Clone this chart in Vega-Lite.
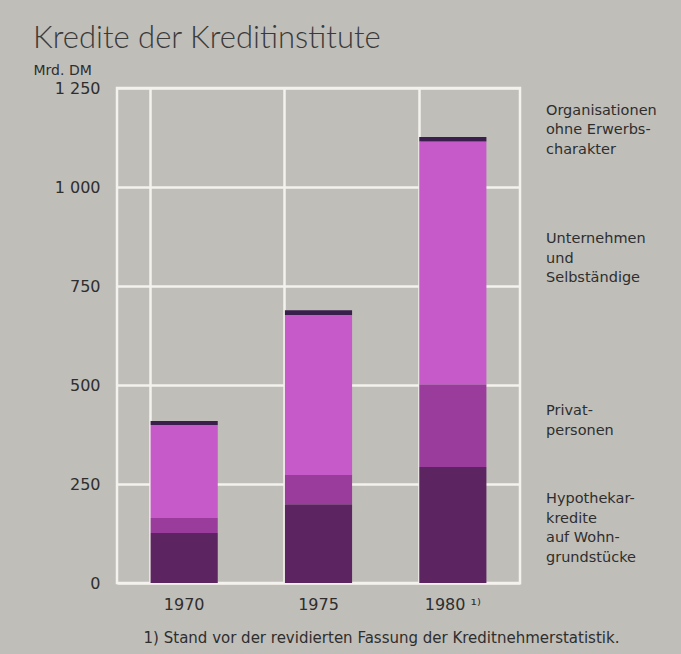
{
  "$schema": "https://vega.github.io/schema/vega-lite/v6.json",
  "autosize": "none",
  "width": 403,
  "height": 495,
  "padding": {"left": 117, "top": 88, "right": 161, "bottom": 71},
  "background": "#c0beb9",
  "config": {
    "view": {"stroke": "#f4f2ee", "strokeWidth": 2.5, "fill": "#c0beb9"},
    "font": "DejaVu Sans"
  },
  "title": {
    "text": "Kredite der Kreditinstitute",
    "anchor": "start",
    "frame": "group",
    "dx": -84,
    "offset": 8,
    "font": "Lato",
    "fontSize": 31,
    "fontWeight": 300,
    "color": "#3a3a3a"
  },
  "datasets": {
    "bars": [
      {"jahr": "1970", "art": "Hypothekarkredite auf Wohngrundstücke", "o": 1, "wert": 126},
      {"jahr": "1970", "art": "Privatpersonen", "o": 2, "wert": 38},
      {"jahr": "1970", "art": "Unternehmen und Selbständige", "o": 3, "wert": 235},
      {"jahr": "1970", "art": "Organisationen ohne Erwerbscharakter", "o": 4, "wert": 10},
      {"jahr": "1975", "art": "Hypothekarkredite auf Wohngrundstücke", "o": 1, "wert": 199},
      {"jahr": "1975", "art": "Privatpersonen", "o": 2, "wert": 74},
      {"jahr": "1975", "art": "Unternehmen und Selbständige", "o": 3, "wert": 404},
      {"jahr": "1975", "art": "Organisationen ohne Erwerbscharakter", "o": 4, "wert": 12},
      {"jahr": "1980", "art": "Hypothekarkredite auf Wohngrundstücke", "o": 1, "wert": 293},
      {"jahr": "1980", "art": "Privatpersonen", "o": 2, "wert": 209},
      {"jahr": "1980", "art": "Unternehmen und Selbständige", "o": 3, "wert": 613},
      {"jahr": "1980", "art": "Organisationen ohne Erwerbscharakter", "o": 4, "wert": 11}
    ],
    "labels": [
      {"text": ["Organisationen", "ohne Erwerbs-", "charakter"], "pos": 1210},
      {"text": ["Unternehmen", "und", "Selbständige"], "pos": 886},
      {"text": ["Privat-", "personen"], "pos": 452},
      {"text": ["Hypothekar-", "kredite", "auf Wohn-", "grundstücke"], "pos": 229}
    ]
  },
  "layer": [
    {
      "data": {"name": "bars"},
      "mark": {"type": "bar"},
      "encoding": {
        "x": {
          "field": "jahr",
          "type": "nominal",
          "scale": {"paddingInner": 0.5, "paddingOuter": 0.25},
          "axis": {
            "title": "1) Stand vor der revidierten Fassung der Kreditnehmerstatistik.",
            "titleFont": "DejaVu Sans",
            "titleFontSize": 15,
            "titleFontWeight": "normal",
            "titleColor": "#2e2e2e",
            "titleAlign": "center",
            "titleAnchor": "middle",
            "titleX": 264,
            "titlePadding": 18,
            "labelAngle": 0,
            "labelFontSize": 16,
            "labelColor": "#2e2e2e",
            "labelPadding": 13,
            "labelExpr": "datum.value == '1980' ? '1980 ¹⁾' : datum.label",
            "ticks": false,
            "domain": false,
            "grid": true,
            "bandPosition": 0,
            "gridColor": "#f4f2ee",
            "gridWidth": 2.5,
            "gridOpacity": 1
          }
        },
        "y": {
          "field": "wert",
          "type": "quantitative",
          "stack": "zero",
          "scale": {"domain": [0, 1250], "nice": false},
          "axis": {
            "title": "Mrd. DM",
            "titleAngle": 0,
            "titleAlign": "left",
            "titleBaseline": "middle",
            "titleX": -84,
            "titleY": -18,
            "titleFontSize": 14,
            "titleFontWeight": "normal",
            "titleColor": "#2e2e2e",
            "values": [0, 250, 500, 750, 1000, 1250],
            "labelExpr": "replace(format(datum.value, ','), ',', ' ')",
            "labelFontSize": 16,
            "labelColor": "#2e2e2e",
            "labelPadding": 17,
            "ticks": false,
            "domain": false,
            "grid": true,
            "gridColor": "#f4f2ee",
            "gridWidth": 2.5,
            "gridOpacity": 1
          }
        },
        "color": {
          "field": "art",
          "type": "nominal",
          "scale": {
            "domain": ["Hypothekarkredite auf Wohngrundstücke", "Privatpersonen", "Unternehmen und Selbständige", "Organisationen ohne Erwerbscharakter"],
            "range": ["#5c2460", "#9a3c9c", "#c65ac8", "#3a1e4c"]
          },
          "legend": null
        },
        "order": {"field": "o", "type": "quantitative"}
      }
    },
    {
      "data": {"name": "labels"},
      "mark": {
        "type": "text",
        "align": "left",
        "baseline": "top",
        "x": {"expr": "width + 26"},
        "fontSize": 14.5,
        "lineHeight": 19.5,
        "color": "#2e2e2e"
      },
      "encoding": {
        "y": {"field": "pos", "type": "quantitative"},
        "text": {"field": "text"}
      }
    }
  ]
}
